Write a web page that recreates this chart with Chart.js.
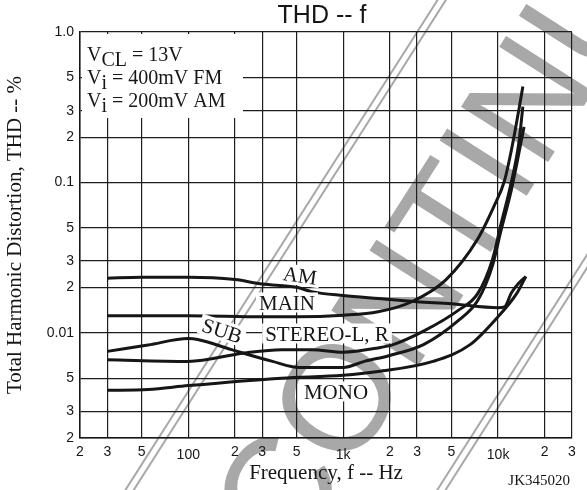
<!DOCTYPE html>
<html>
<head>
<meta charset="utf-8">
<style>
  html, body { margin: 0; padding: 0; background: #fff; }
  #wrap { width: 587px; height: 490px; position: relative; }
  canvas { display: block; }
</style>
<script src="https://cdn.jsdelivr.net/npm/chart.js@4.4.1/dist/chart.umd.min.js"></script>
</head>
<body>
<div id="wrap"><canvas id="thd" width="587" height="490"></canvas></div>
<script>
// Axis ticks
const xTickValues = [20, 30, 50, 100, 200, 300, 500, 1000, 2000, 3000, 5000, 10000, 20000, 30000];
const xTickLabels = ['2', '3', '5', '100', '2', '3', '5', '1k', '2', '3', '5', '10k', '2', '3'];
const yTickValues = [0.002, 0.003, 0.005, 0.01, 0.02, 0.03, 0.05, 0.1, 0.2, 0.3, 0.5, 1.0];
const yTickLabels = ['2', '3', '5', '0.01', '2', '3', '5', '0.1', '2', '3', '5', '1.0'];

// THD (%) versus frequency (Hz), one pair of arrays per mode
const amFreq = [30, 50, 100, 200, 300, 500, 625, 1000, 1680, 3000, 5000, 10000, 11000, 12200, 13600, 15100];
const amThd  = [0.0231, 0.0234, 0.0234, 0.0226, 0.0211, 0.0201, 0.0188, 0.0177, 0.0169, 0.0161, 0.0156, 0.0147, 0.0149, 0.0185, 0.0214, 0.0237];

const mainFreq = [30, 100, 300, 500, 1000, 1680, 2770, 4600, 7400, 9400, 10960, 12200, 13600, 14450];
const mainThd  = [0.0130, 0.0130, 0.0128, 0.0128, 0.0131, 0.0138, 0.0161, 0.0225, 0.0422, 0.0693, 0.1015, 0.165, 0.302, 0.435];

const subFreq = [30, 55, 100, 115, 190, 350, 520, 1000, 1370, 1970, 3300, 5500, 7400, 9200, 10400, 12200, 13600, 14700];
const subThd  = [0.00753, 0.0083, 0.00916, 0.00904, 0.00773, 0.00646, 0.00589, 0.00589, 0.00646, 0.00705, 0.00835, 0.0120, 0.01645, 0.028, 0.047, 0.090, 0.155, 0.234];

const stereoFreq = [30, 100, 230, 400, 625, 1000, 1680, 2100, 3300, 5500, 7400, 9200, 10400, 12200, 13600, 14450];
const stereoThd  = [0.00663, 0.00646, 0.00735, 0.00773, 0.00773, 0.00744, 0.00794, 0.00835, 0.01026, 0.01405, 0.0183, 0.0308, 0.052, 0.1015, 0.1815, 0.319];

const monoFreq = [30, 55, 100, 400, 1000, 1680, 3800, 6600, 9900, 13200, 15100];
const monoThd  = [0.00415, 0.0042, 0.00446, 0.0050, 0.00522, 0.00553, 0.00646, 0.00835, 0.01267, 0.0183, 0.0237];

const pairs = (xs, ys) => xs.map((x, i) => ({ x: x, y: ys[i] }));

const curveStyle = {
  borderColor: '#161616',
  borderWidth: 3,
  pointRadius: 0,
  fill: false,
  cubicInterpolationMode: 'monotone'
};

const serif = '"Liberation Serif", "Times New Roman", Times, serif';
const sans = '"Liberation Sans", Arial, Helvetica, sans-serif';

// Large grey diagonal stamp with double rules, drawn behind the grid
const stampPlugin = {
  id: 'stamp',
  beforeDraw(chart) {
    const ctx = chart.ctx;
    ctx.save();
    ctx.fillStyle = '#ffffff';
    ctx.fillRect(0, 0, chart.width, chart.height);
    ctx.translate(425, 271);
    ctx.rotate(-57.5 * Math.PI / 180);
    ctx.fillStyle = '#a8a8a8';
    ctx.strokeStyle = '#a8a8a8';
    ctx.font = '150px ' + sans;
    ctx.textAlign = 'center';
    ctx.textBaseline = 'middle';
    ctx.fillText('DISCONTINUED', 0, 4);
    ctx.lineWidth = 2;
    [-135, -128, 128, 135].forEach(off => {
      ctx.beginPath();
      ctx.moveTo(-900, off);
      ctx.lineTo(900, off);
      ctx.stroke();
    });
    ctx.restore();
  }
};

// Curve names, the condition box and the drawing number
function boxedText(ctx, text, x, y, angle, size) {
  ctx.save();
  ctx.translate(x, y);
  ctx.rotate(angle * Math.PI / 180);
  ctx.font = size + 'px ' + serif;
  const w = ctx.measureText(text).width;
  ctx.fillStyle = '#ffffff';
  ctx.fillRect(-w / 2 - 3, -size * 0.5, w + 6, size * 0.95);
  ctx.fillStyle = '#161616';
  ctx.textAlign = 'center';
  ctx.textBaseline = 'middle';
  ctx.fillText(text, 0, 1);
  ctx.restore();
}

function subscriptLine(ctx, x, y, main, sub, rest) {
  ctx.font = '20px ' + serif;
  ctx.fillText(main, x, y);
  x += ctx.measureText(main).width;
  ctx.fillText(sub, x, y + 5);
  x += ctx.measureText(sub).width;
  ctx.fillText(rest, x, y);
}

const notesPlugin = {
  id: 'notes',
  afterDatasetsDraw(chart) {
    const ctx = chart.ctx;
    ctx.save();
    // condition box
    ctx.fillStyle = '#ffffff';
    ctx.fillRect(82, 34, 161, 84);
    ctx.fillStyle = '#161616';
    ctx.textBaseline = 'alphabetic';
    ctx.textAlign = 'left';
    subscriptLine(ctx, 87, 61, 'V', 'CL', ' = 13V');
    subscriptLine(ctx, 87, 84, 'V', 'i', ' = 400mV FM');
    subscriptLine(ctx, 87, 107, 'V', 'i', ' = 200mV AM');

    boxedText(ctx, 'AM', 300, 276, 8, 21);
    boxedText(ctx, 'MAIN', 287, 303, 0, 21);
    boxedText(ctx, 'SUB', 222, 331, 18, 21);
    boxedText(ctx, 'STEREO-L, R', 327, 334, 0, 21);
    boxedText(ctx, 'MONO', 336, 392, 0, 21);

    // title
    ctx.font = '25px ' + sans;
    ctx.fillStyle = '#161616';
    ctx.textAlign = 'center';
    ctx.textBaseline = 'alphabetic';
    ctx.fillText('THD -- f', 322, 23);

    ctx.font = '15px ' + serif;
    ctx.textAlign = 'right';
    ctx.fillText('JK345020', 570, 485);
    ctx.restore();
  }
};

// decade labels (100, 1k, 10k) sit a little lower than the in-between digits
const isDecade = (v) => v === 100 || v === 1000 || v === 10000;

new Chart(document.getElementById('thd'), {
  type: 'line',
  data: {
    datasets: [
      Object.assign({ label: 'AM', data: pairs(amFreq, amThd) }, curveStyle),
      Object.assign({ label: 'MAIN', data: pairs(mainFreq, mainThd) }, curveStyle),
      Object.assign({ label: 'SUB', data: pairs(subFreq, subThd) }, curveStyle),
      Object.assign({ label: 'STEREO-L, R', data: pairs(stereoFreq, stereoThd) }, curveStyle),
      Object.assign({ label: 'MONO', data: pairs(monoFreq, monoThd) }, curveStyle)
    ]
  },
  options: {
    responsive: false,
    animation: false,
    devicePixelRatio: 1,
    layout: { padding: { left: 0, right: 15, top: 32, bottom: 0 } },
    plugins: { legend: { display: false }, tooltip: { enabled: false }, title: { display: false } },
    scales: {
      x: {
        type: 'logarithmic',
        min: 20,
        max: 30000,
        afterBuildTicks: (scale) => { scale.ticks = xTickValues.map(v => ({ value: v })); },
        afterFit: (scale) => { scale.height = 52; },
        ticks: {
          autoSkip: false,
          maxRotation: 0,
          padding: 6,
          color: '#161616',
          font: (c) => ({ family: sans, size: 14, lineHeight: (c.tick && isDecade(c.tick.value)) ? 1.6 : 1.2 }),
          callback: (v) => { const i = xTickValues.indexOf(v); return i >= 0 ? xTickLabels[i] : ''; }
        },
        grid: { color: '#1e1e1e', lineWidth: 1.2, drawTicks: false },
        border: { display: true, color: '#161616', width: 1.5 },
        title: {
          display: true,
          text: 'Frequency, f -- Hz',
          color: '#161616',
          font: { family: serif, size: 21 },
          padding: { top: 0, bottom: 4 }
        }
      },
      y: {
        type: 'logarithmic',
        min: 0.002,
        max: 1.0,
        afterBuildTicks: (scale) => { scale.ticks = yTickValues.map(v => ({ value: v })); },
        afterFit: (scale) => { scale.width = 80; },
        ticks: {
          autoSkip: false,
          padding: 6,
          color: '#161616',
          font: { family: sans, size: 14 },
          callback: (v) => { const i = yTickValues.findIndex(t => Math.abs(t - v) < v * 1e-6); return i >= 0 ? yTickLabels[i] : ''; }
        },
        grid: { color: '#1e1e1e', lineWidth: 1.2, drawTicks: false },
        border: { display: true, color: '#161616', width: 1.5 },
        title: {
          display: true,
          text: 'Total Harmonic Distortion, THD -- %',
          color: '#161616',
          font: { family: serif, size: 21 },
          padding: { top: 3, bottom: 0 }
        }
      }
    }
  },
  plugins: [stampPlugin, notesPlugin]
});
</script>
</body>
</html>
